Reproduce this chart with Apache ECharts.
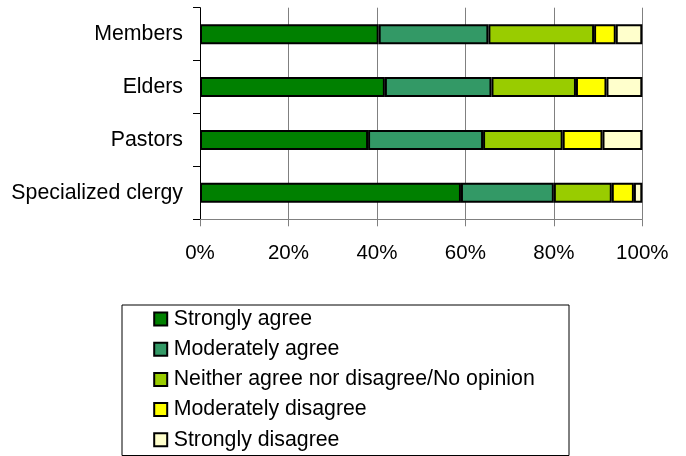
<!DOCTYPE html>
<html>
<head>
<meta charset="utf-8">
<script src="https://cdn.jsdelivr.net/npm/echarts@6/dist/echarts.min.js"></script>
<style>html,body{margin:0;padding:0;background:#fff;}#c{width:686px;height:456px;}</style>
</head>
<body>
<div id="c"></div>
<script>
const categories = ['Members', 'Elders', 'Pastors', 'Specialized clergy'];
const seriesNames = ['Strongly agree', 'Moderately agree', 'Neither agree nor disagree/No opinion', 'Moderately disagree', 'Strongly disagree'];
const stronglyAgree = [40.4, 41.8, 38.0, 59.0];
const moderatelyAgree = [24.8, 24.1, 26.0, 21.0];
const neither = [23.9, 19.1, 18.0, 13.1];
const moderatelyDisagree = [4.9, 6.9, 9.0, 5.0];
const stronglyDisagree = [6.0, 8.1, 9.0, 1.9];
const xTicks = [0, 20, 40, 60, 80, 100];
const colors = ['#008000', '#339966', '#99CC00', '#FFFF00', '#FFFFCC'];

const values = [stronglyAgree, moderatelyAgree, neither, moderatelyDisagree, stronglyDisagree];
const FONT = "'Liberation Sans', Arial, sans-serif";

const chart = echarts.init(document.getElementById('c'));
chart.setOption({
  animation: false,
  backgroundColor: '#fff',
  color: colors,
  grid: { left: 200, right: 43.7, top: 7.7, bottom: 236.7, outerBoundsMode: 'none' },
  xAxis: {
    type: 'value',
    min: xTicks[0], max: xTicks[xTicks.length - 1], interval: xTicks[1] - xTicks[0],
    axisLine: { show: true, lineStyle: { color: '#808080', width: 1 } },
    axisTick: { show: true, length: 7, lineStyle: { color: '#808080' } },
    splitLine: { show: true, lineStyle: { color: '#808080', width: 1 } },
    axisLabel: { formatter: '{value}%', color: '#000', fontSize: 20.5, fontFamily: FONT, margin: 24 }
  },
  yAxis: {
    type: 'category',
    inverse: true,
    data: categories,
    axisLine: { show: true, lineStyle: { color: '#000', width: 1 } },
    axisTick: { show: true, length: 7, alignWithLabel: false, lineStyle: { color: '#000' } },
    splitLine: { show: false },
    axisLabel: { color: '#000', fontSize: 21.3, fontFamily: FONT, margin: 17 }
  },
  legend: {
    orient: 'vertical',
    left: 153.2,
    top: 307,
    padding: 0,
    itemGap: 6.2,
    itemWidth: 13,
    itemHeight: 13,
    icon: 'rect',
    itemStyle: { borderColor: '#000', borderWidth: 2 },
    textStyle: { color: '#000', fontSize: 21.3, fontFamily: FONT, lineHeight: 24, padding: [0, 0, 0, 1.5] },
    data: seriesNames
  },
  graphic: [{
    type: 'rect',
    left: 119.5, top: 302.5,
    shape: { width: 447, height: 150.5 },
    style: { fill: 'none', stroke: '#000', lineWidth: 1 },
    silent: true
  }],
  series: seriesNames.map((name, i) => ({
    name: name,
    type: 'bar',
    stack: 'total',
    barWidth: 20,
    data: values[i],
    itemStyle: { color: colors[i], borderColor: '#000', borderWidth: 2 }
  }))
});
</script>
</body>
</html>
